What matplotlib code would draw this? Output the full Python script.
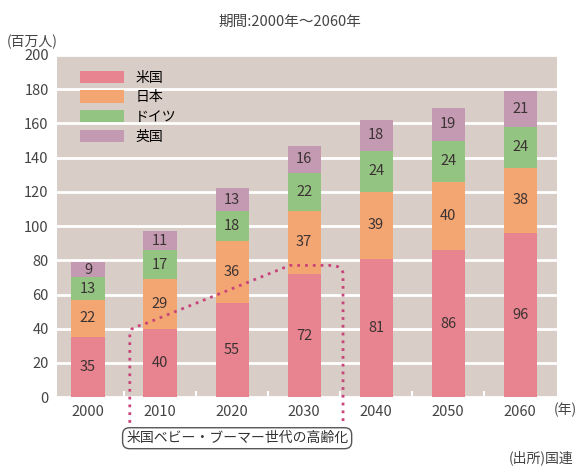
import matplotlib.pyplot as plt
import numpy as np
from matplotlib.path import Path
from matplotlib.patches import PathPatch

plt.rcParams['font.family'] = ['Noto Sans CJK JP', 'DejaVu Sans']

# Data (millions of people)
years = ['2000', '2010', '2020', '2030', '2040', '2050', '2060']
usa     = [35, 40, 55, 72, 81, 86, 96]
japan   = [22, 29, 36, 37, 39, 40, 38]
germany = [13, 17, 18, 22, 24, 24, 24]
uk      = [9, 11, 13, 16, 18, 19, 21]

series = [('米国', usa, '#e8848f'),
          ('日本', japan, '#f4a672'),
          ('ドイツ', germany, '#93c482'),
          ('英国', uk, '#c49ab2')]

fig = plt.figure(figsize=(5.76, 4.70), dpi=100)
ax = fig.add_axes([0.099, 0.155, 0.868, 0.728])
ax.set_facecolor('#d9cdc7')

x = np.arange(len(years))
bottom = np.zeros(len(years))
for name, vals, col in series:
    ax.bar(x, vals, 0.46, bottom=bottom, color=col, label=name, zorder=2)
    for xi, b, v in zip(x, bottom, vals):
        ax.text(xi, b + v / 2, str(v), ha='center', va='center',
                fontsize=10.5, color='#3b3333', zorder=3)
    bottom += vals

ax.set_ylim(0, 200)
ax.set_xlim(-0.43, 6.51)
ax.set_yticks(range(0, 201, 20))
ax.yaxis.grid(True, color='white', lw=2, zorder=1)
ax.set_axisbelow(True)
ax.set_xticks(x)
ax.set_xticklabels(years)
ax.set_xticks(x[:-1] + 0.5, minor=True)
ax.tick_params(axis='x', which='minor', direction='in', length=4, width=1.5, color='white')
ax.tick_params(axis='both', which='major', length=0, labelsize=10.5, labelcolor='#444444', pad=6)
for s in ax.spines.values():
    s.set_visible(False)

leg = ax.legend(loc='upper left', frameon=False, fontsize=10, handlelength=3.2,
                handleheight=1.0, labelspacing=0.4, bbox_to_anchor=(0.02, 0.99))

# dotted annotation path
verts = [(0.58, -15), (0.58, 37), (0.58, 41), (0.74, 42), (2.8, 77), (3.35, 77),
         (3.54, 77), (3.54, 72), (3.54, -15)]
codes = [Path.MOVETO, Path.LINETO, Path.CURVE3, Path.CURVE3, Path.LINETO, Path.LINETO,
         Path.CURVE3, Path.CURVE3, Path.LINETO]
ax.add_patch(PathPatch(Path(verts, codes), fill=False, edgecolor='#c8457a', lw=2,
                       linestyle=(0, (1, 1.8)), clip_on=False, zorder=4))
ax.text(2.07, -24, '米国ベビー・ブーマー世代の高齢化', ha='center', va='center',
        fontsize=10, color='#333333', clip_on=False, zorder=5,
        bbox=dict(boxstyle='round,pad=0.25,rounding_size=0.5', fc='white', ec='#555555', lw=1))

fig.text(0.503, 0.953, '期間:2000年～2060年', ha='center', va='center', fontsize=10.5, color='#444444')
fig.text(0.012, 0.91, '(百万人)', ha='left', va='center', fontsize=10, color='#444444')
fig.text(0.962, 0.128, '(年)', ha='left', va='center', fontsize=10, color='#444444')
fig.text(0.995, 0.025, '(出所)国連', ha='right', va='center', fontsize=10, color='#444444')

fig.savefig('out.png', dpi=100)
